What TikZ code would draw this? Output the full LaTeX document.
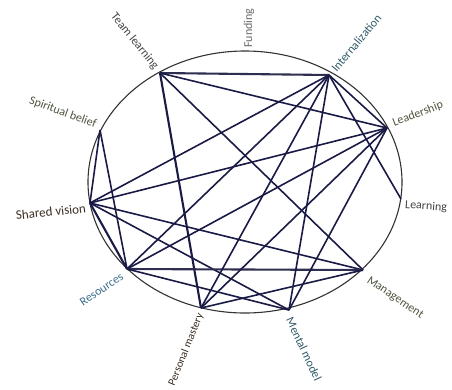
\documentclass[tikz,border=0pt]{standalone}
\usepackage{fontspec}
\setmainfont{Carlito}
\definecolor{edgecol}{HTML}{1A1A46}
\definecolor{ringcol}{HTML}{333333}
\definecolor{labgray}{HTML}{444444}
\definecolor{labteal}{HTML}{2F5A68}
\definecolor{labblue}{HTML}{3A6E8C}
\definecolor{labbrown}{HTML}{3A2E20}
\definecolor{labolive}{HTML}{4E5640}
\begin{document}
\begin{tikzpicture}[x=1pt,y=-1pt,
  edge/.style={draw=edgecol, line width=1.6pt},
  thickedge/.style={draw=edgecol, line width=2.1pt},
  pairedge/.style={draw=edgecol!80!gray, line width=2.1pt},
  ring/.style={draw=ringcol, line width=1.1pt},
  lbl/.style={font=\fontsize{12}{14}\selectfont, inner sep=1pt, text=labgray}]
\useasboundingbox (0,0) rectangle (452,389);
\fill[white] (0,0) rectangle (452,389);
\draw[ring] (245,182) ellipse [x radius=157pt, y radius=131pt];

\coordinate (TL) at (160,73);
\coordinate (SB) at (100,130);
\coordinate (SV) at (90,203);
\coordinate (Res) at (127,269);
\coordinate (PM) at (201,308);
\coordinate (MM) at (289,310);
\coordinate (Mg) at (363,270);
\coordinate (Lg) at (401,199);
\coordinate (Ld) at (387,128);
\coordinate (In) at (329,75);

% edges
\draw[pairedge] (TL) -- (In);
\draw[edge] (TL) -- (Ld);
\draw[edge] (TL) -- (Mg);
\draw[thickedge] (TL) -- (PM);
\draw[edge] (SB) -- (SV);
\draw[edge] (SB) -- (Res);
\draw[edge] (SV) -- (In);
\draw[edge] (SV) -- (Ld);
\draw[thickedge] (SV) -- (Res);
\draw[edge] (SV) -- (Mg);
\draw[edge] (SV) -- (MM);
\draw[pairedge] (Res) -- (Mg);
\draw[edge] (Res) -- (MM);
\draw[edge] (Res) -- (In);
\draw[edge] (Res) -- (Ld);
\draw[edge] (PM) -- (Mg);
\draw[edge] (PM) -- (In);
\draw[edge] (PM) -- (Ld);
\draw[edge] (MM) -- (In);
\draw[edge] (MM) -- (Ld);
\draw[edge] (In) -- (Ld);
\draw[edge] (In) -- (Lg);

% labels
\node[lbl, rotate=-51, anchor=east] (lTL) at (157,69) {Team learning};
\node[lbl, rotate=90, text=labgray!80] (lFd) at (249,28) {Funding};
\node[lbl, rotate=50, anchor=west, text=labteal] (lIn) at (333,71) {Internalization};
\node[lbl, rotate=21, anchor=west, text=labolive] (lLd) at (392,124) {Leadership};
\node[lbl, rotate=-4, anchor=west, text=labgray] (lLg) at (404,205) {Learning};
\node[lbl, rotate=-34, anchor=west, text=labolive] (lMg) at (367,279) {Management};
\node[lbl, rotate=-65, anchor=west, text=labteal] (lMM) at (289,317) {Mental model};
\node[lbl, font=\fontsize{11}{13}\selectfont, rotate=68, anchor=east, text=labbrown] (lPM) at (201,313) {Personal mastery};
\node[lbl, rotate=34, anchor=east, text=labblue] (lRes) at (123,275) {Resources};
\node[lbl, font=\fontsize{13}{15}\selectfont, rotate=6, anchor=east, text=labbrown] (lSV) at (87,208) {Shared vision};
\node[lbl, rotate=-20, anchor=east, text=labolive] (lSB) at (97,125) {Spiritual belief};
\end{tikzpicture}
\end{document}
